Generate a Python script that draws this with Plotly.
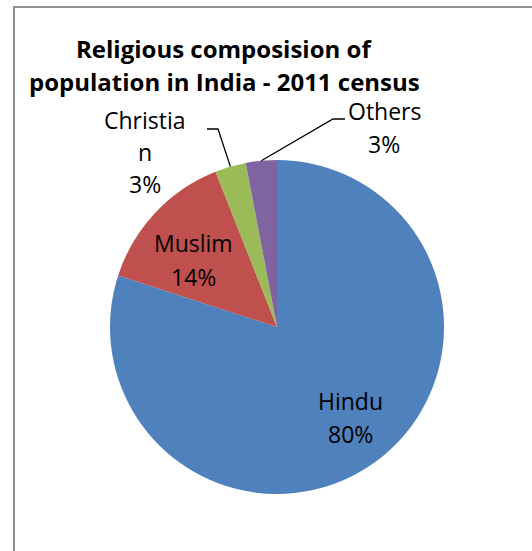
import math
import plotly.graph_objects as go

# Religious composition of India's population, 2011 census (percent)
religions = ["Hindu", "Muslim", "Christian", "Others"]
shares = [80, 14, 3, 3]
slice_colors = ["#4F81BD", "#C0504D", "#9BBB59", "#8064A2"]

W, H = 532, 551
CX, CY, R = 277, 327, 167          # pie centre and radius in pixels

FONT = "Open Sans"
TEXT_SIZE = 23
TITLE_SIZE = 24


def px(x):
    return x / W


def py(y):
    return 1 - y / H


total = sum(shares)
percents = [f"{round(v / total * 100)}%" for v in shares]

# mid-angle of each slice, clockwise from 12 o'clock
mid_angles = []
acc = 0
for v in shares:
    mid_angles.append((acc + v / 2) / total * 360)
    acc += v


def rim_point(angle_deg):
    a = math.radians(angle_deg)
    return CX + R * math.sin(a), CY - R * math.cos(a)


fig = go.Figure(
    go.Pie(
        labels=religions,
        values=shares,
        sort=False,
        direction="clockwise",
        rotation=0,
        textinfo="none",
        marker=dict(colors=slice_colors, line=dict(width=0)),
        showlegend=False,
        domain=dict(x=[px(CX - R), px(CX + R)], y=[py(CY + R), py(CY - R)]),
    )
)

annotations = []


def text_lines(lines, x, y0, step, size=TEXT_SIZE, bold=False):
    for i, line in enumerate(lines):
        t = f"<b>{line}</b>" if bold else line
        annotations.append(dict(
            text=t, x=px(x), y=py(y0 + i * step), xref="paper", yref="paper",
            xanchor="center", yanchor="middle", showarrow=False,
            font=dict(family=FONT, size=size, color="#000000"),
        ))


# title
text_lines(["Religious composision of", "population in India - 2011 census"],
           224, 48, 33, size=TITLE_SIZE, bold=True)

# inside labels
text_lines([religions[0], percents[0]], 350, 401, 33)
text_lines([religions[1], percents[1]], 193, 243, 34)

# outside labels (Christian label wraps inside its box)
text_lines(["Christia", "n", percents[2]], 145, 120, 32)
text_lines([religions[3], percents[3]], 384, 111, 33)

# leader lines: rim of slice -> elbow -> short horizontal towards label
shapes = []
leaders = [
    (2, (218, 129), (207, 129)),
    (3, (333, 119), (345, 119)),
]
for idx, elbow, end in leaders:
    rx, ry = rim_point(mid_angles[idx])
    path = (f"M {px(rx)},{py(ry)} L {px(elbow[0])},{py(elbow[1])} "
            f"L {px(end[0])},{py(end[1])}")
    shapes.append(dict(type="path", path=path, xref="paper", yref="paper",
                       line=dict(color="#000000", width=1.3)))

# chart-area frame
shapes.append(dict(type="rect", xref="paper", yref="paper",
                   x0=px(14), y0=py(W + 40), x1=px(W + 20), y1=py(7),
                   line=dict(color="#8f8f8f", width=2)))

fig.update_layout(
    width=W, height=H,
    margin=dict(l=0, r=0, t=0, b=0),
    paper_bgcolor="#ffffff",
    plot_bgcolor="#ffffff",
    annotations=annotations,
    shapes=shapes,
)

fig.write_html("out.html")
